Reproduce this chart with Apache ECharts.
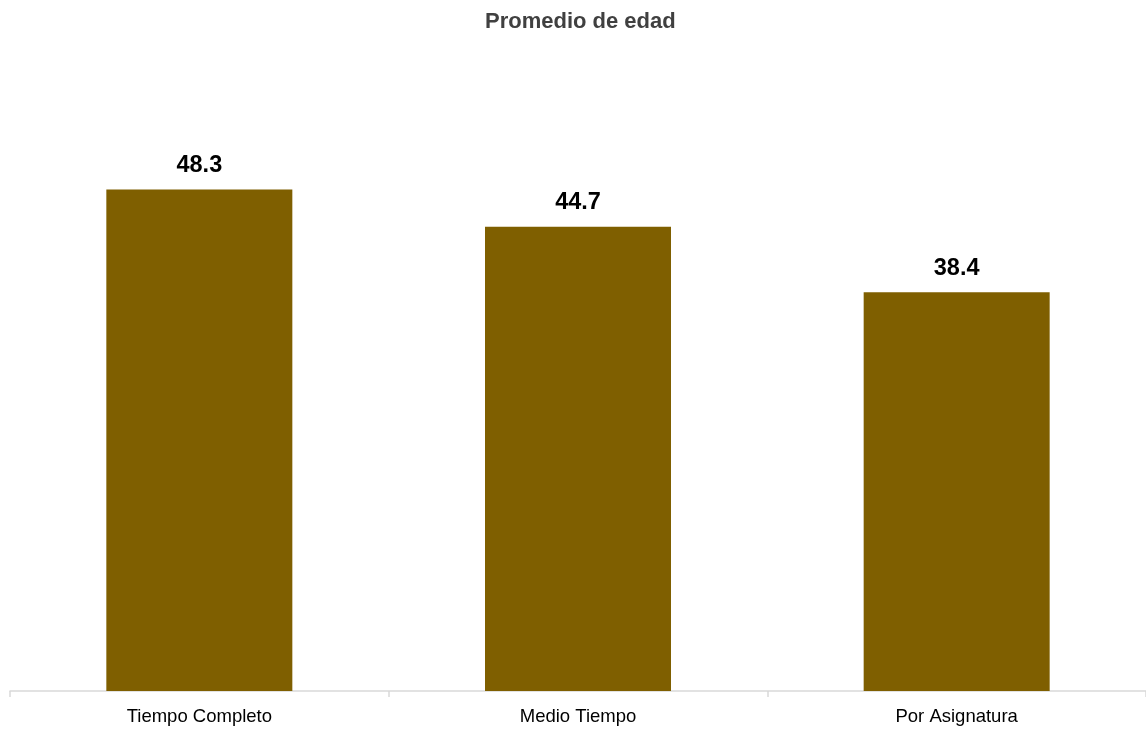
<!DOCTYPE html>
<html><head><meta charset="utf-8">
<script src="https://cdn.jsdelivr.net/npm/echarts@6/dist/echarts.min.js"></script>
<style>html,body{margin:0;padding:0;background:#fff}#c{width:1146px;height:730px}</style>
</head><body><div id="c"></div>
<script>
const categories = ['Tiempo Completo', 'Medio Tiempo', 'Por Asignatura'];
const values = [48.3, 44.7, 38.4];
const chart = echarts.init(document.getElementById('c'));
chart.setOption({
  animation: false,
  title: {text: 'Promedio de edad', left: 480, top: 6,
    textStyle: {fontFamily: 'Liberation Sans, Arial', fontSize: 22, fontWeight: 'bold', color: '#404040'}},
  grid: {left: 10, width: 1140, top: 68, bottom: 39},
  xAxis: {type: 'category', data: categories,
    axisLine: {lineStyle: {color: '#d9d9d9', width: 1.5}},
    axisTick: {show: true, length: 6, lineStyle: {color: '#d9d9d9', width: 1.5}},
    axisLabel: {fontFamily: 'Liberation Sans, Arial', fontSize: 18.5, color: '#000', margin: 16}},
  yAxis: {type: 'value', min: 0, max: 60, show: false, splitLine: {show: false}},
  series: [{type: 'bar', data: values, barWidth: 186,
    itemStyle: {color: '#7F5F00'},
    label: {show: true, position: 'top', distance: 12,
      fontFamily: 'Liberation Sans, Arial', fontSize: 23.5, fontWeight: 'bold', color: '#000',
      formatter: p => p.value.toFixed(1)}}]
});
</script></body></html>
